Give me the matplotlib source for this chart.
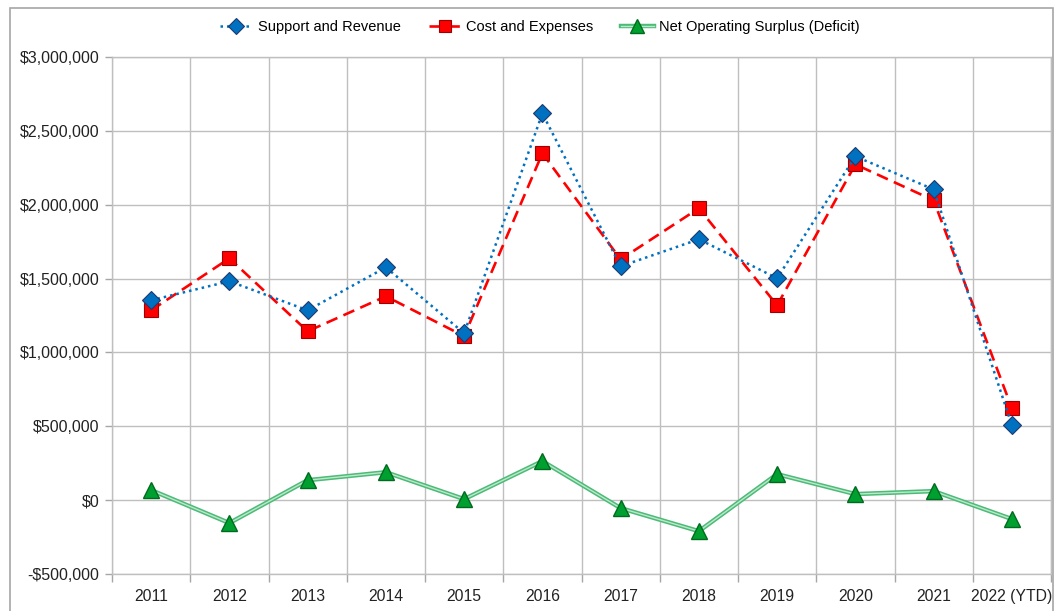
import matplotlib
matplotlib.use("Agg")
import matplotlib.pyplot as plt
import numpy as np
from matplotlib.ticker import FuncFormatter, MultipleLocator
from matplotlib.patches import Rectangle

years = ["2011", "2012", "2013", "2014", "2015", "2016", "2017", "2018",
         "2019", "2020", "2021", "2022 (YTD)"]
support = [1353000, 1482000, 1285000, 1576000, 1130000, 2618000, 1583000,
           1766000, 1502000, 2327000, 2104000, 507000]
costs = [1285000, 1637000, 1143000, 1380000, 1110000, 2348000, 1630000,
         1976000, 1319000, 2273000, 2030000, 622000]
net = [68000, -155000, 135000, 189000, 7000, 264000, -54000, -210000,
       176000, 41000, 61000, -128000]

plt.rcParams['font.family'] = ['Liberation Sans', 'DejaVu Sans']

fig = plt.figure(figsize=(10.57, 6.11), dpi=100)
ax = fig.add_axes([112 / 1057, 1 - 574 / 611, (1051 - 112) / 1057, (574 - 57) / 611])

x = np.arange(len(years))

# Support and Revenue: dotted blue with diamonds
l1, = ax.plot(x, support, linestyle=(0, (1, 1.6)), color="#0070C0", linewidth=1.8,
              marker="D", markersize=9, markerfacecolor="#0070C0",
              markeredgecolor="#1F3A6E", markeredgewidth=0.8, zorder=4,
              label="Support and Revenue")

# Cost and Expenses: dashed red with squares
l2, = ax.plot(x, costs, linestyle=(0, (4.5, 2.5)), color="#FF0000", linewidth=1.9,
              marker="s", markersize=10, markerfacecolor="#FF0000",
              markeredgecolor="#A00000", markeredgewidth=0.8, zorder=3,
              label="Cost and Expenses")

# Net Operating Surplus: double line look
l3a, = ax.plot(x, net, color="#4DBB78", linewidth=3.2, zorder=2)
l3b, = ax.plot(x, net, color="#BDE8CB", linewidth=1.0, zorder=2.1)
l3m, = ax.plot(x, net, linestyle="none", marker="^", markersize=11.5,
               markerfacecolor="#00A030", markeredgecolor="#006B1E",
               markeredgewidth=1.0, zorder=5)

ax.set_xlim(-0.5, len(years) - 0.5)
ax.set_ylim(-500000, 3000000)
ax.yaxis.set_major_locator(MultipleLocator(500000))


def money(v, pos):
    if v < 0:
        return "-${:,.0f}".format(-v)
    return "${:,.0f}".format(v)


ax.yaxis.set_major_formatter(FuncFormatter(money))
ax.set_xticks(x)
ax.set_xticklabels(years)
ax.set_xticks(np.arange(-0.5, len(years)), minor=True)

ax.tick_params(axis="x", which="major", length=0, pad=11, labelsize=11.3, colors="#222222")
ax.tick_params(axis="x", which="minor", length=6, color="#A6A6A6", width=1)
ax.tick_params(axis="y", which="major", length=5, width=1,
               pad=4, labelsize=11.5, colors="#222222")
ax.tick_params(axis="y", which="major", color="#A6A6A6")

ax.grid(True, axis="y", which="major", color="#BFBFBF", linewidth=1)
ax.grid(True, axis="x", which="minor", color="#BFBFBF", linewidth=1)
ax.set_axisbelow(True)
for s in ax.spines.values():
    s.set_color("#BFBFBF")
    s.set_linewidth(1)

fig.legend([l1, l2, (l3a, l3b, l3m)],
           ["Support and Revenue", "Cost and Expenses",
            "Net Operating Surplus (Deficit)"],
           loc="center", bbox_to_anchor=(540 / 1057, 1 - 27 / 611), ncol=3,
           frameon=False, fontsize=10.5, handlelength=2.2, columnspacing=1.9,
           handletextpad=0.4, markerscale=0.85)

# chart area border
fig.patches.append(Rectangle((10 / 1057, -0.01), 1043 / 1057, 1 - 8 / 611 + 0.01,
                             transform=fig.transFigure, fill=False,
                             edgecolor="#A6A6A6", linewidth=1.2))

fig.savefig("out.png", dpi=100)
